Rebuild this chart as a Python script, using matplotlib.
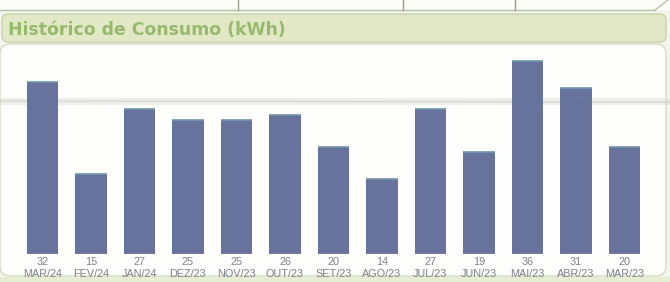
import numpy as np
import matplotlib
matplotlib.use('Agg')
import matplotlib.pyplot as plt
from matplotlib.patches import FancyBboxPatch, Rectangle

# Data read from the bill
months = ['MAR/24', 'FEV/24', 'JAN/24', 'DEZ/23', 'NOV/23', 'OUT/23', 'SET/23',
          'AGO/23', 'JUL/23', 'JUN/23', 'MAI/23', 'ABR/23', 'MAR/23']
consumo = [32, 15, 27, 25, 25, 26, 20, 14, 27, 19, 36, 31, 20]
title = 'Histórico de Consumo (kWh)'

W, H = 670, 282
fig = plt.figure(figsize=(W / 100, H / 100), dpi=100)
fig.patch.set_facecolor('#f4f5ee')

# background decoration in pixel coordinates (top-left origin)
bg = fig.add_axes([0, 0, 1, 1])
bg.set_xlim(0, W)
bg.set_ylim(H, 0)
bg.axis('off')

# table remnant at the top
bg.add_patch(Rectangle((0, 0), W, 10, facecolor='#fbfbf8', edgecolor='none'))
bg.plot([0, 655], [10, 10], color='#b9c2a8', lw=1)
for xv in [238, 403, 515]:
    bg.plot([xv, xv], [0, 10], color='#9aa090', lw=1)
bg.plot([655, 668], [10, 0], color='#b9c2a8', lw=1)

# green title band
bg.add_patch(FancyBboxPatch((2, 14), W - 6, 28, boxstyle='round,pad=0,rounding_size=6',
                            facecolor='#e2e8c6', edgecolor='#c9d3a9', lw=1))
bg.text(8, 30, title, fontsize=12.4, fontweight='bold', color='#94bb6c',
        va='center', ha='left', family='DejaVu Sans')

# white panel
bg.add_patch(FancyBboxPatch((0, 44), W - 4, 232, boxstyle='round,pad=0,rounding_size=10',
                            facecolor='#fdfdfb', edgecolor='#d6dcc4', lw=1))
# bottom green strip
bg.add_patch(Rectangle((0, 277), W, 5, facecolor='#e6edd0', edgecolor='none'))

# fold crease across the paper
bg.add_patch(Rectangle((0, 98), W, 7, facecolor='#dcdcd8', edgecolor='none', alpha=0.45))
bg.plot([0, W], [101, 102], color='#c8c8c4', lw=1, alpha=0.6)

# bar chart axes
pitch = 48.5
x0 = 42.5 - pitch / 2
ax = fig.add_axes([x0 / W, 28 / H, 13 * pitch / W, (254 - 44) / H])
ax.patch.set_alpha(0)
x = np.arange(len(months))
ax.bar(x, consumo, width=0.64, color='#5f6c98', edgecolor='none', alpha=0.95)
ax.hlines(consumo, x - 0.32, x + 0.32, color='#6f97a8', lw=1.2)
ax.hlines(np.zeros(len(x)), x - 0.32, x + 0.32, color='#e3a6c8', lw=0.9)
ax.set_xlim(-0.5, len(months) - 0.5)
ax.set_ylim(0, 210 / 5.36)
ax.axis('off')

lab_font = ['Liberation Sans Narrow', 'Liberation Sans', 'DejaVu Sans']
for xi, v, m in zip(x, consumo, months):
    ax.annotate(str(v), (xi, 0), xytext=(0, -2.5), textcoords='offset points',
                ha='center', va='top', fontsize=7.8, color='#80808a', family=lab_font)
    ax.annotate(m, (xi, 0), xytext=(0, -10.5), textcoords='offset points',
                ha='center', va='top', fontsize=7.8, color='#80808a', family=lab_font)

fig.savefig('out.png', dpi=100, facecolor=fig.get_facecolor())
